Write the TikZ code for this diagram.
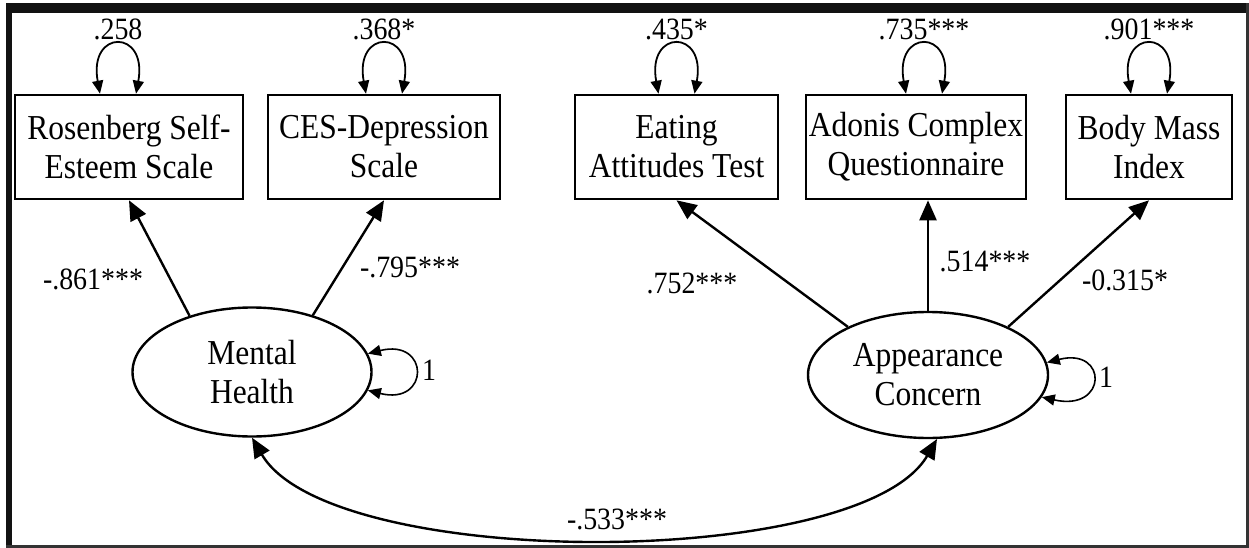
\documentclass[tikz,border=0pt]{standalone}
\usepackage{fontspec}
\setmainfont{Liberation Serif}[FakeStretch=0.9]
\usetikzlibrary{arrows.meta, shapes.geometric, calc}

\begin{document}
\begin{tikzpicture}[x=1pt, y=-1pt]

\tikzset{measure/.style = {shape=rectangle, draw, line width=2.6pt, minimum height=104pt, inner sep=0pt, align=center, font=\fontsize{35}{39}\selectfont}}
\tikzset{latent/.style = {shape=ellipse, draw, line width=2.4pt, inner sep=0pt, align=center, font=\fontsize{35}{39}\selectfont}}
\tikzset{path/.style = {-{Triangle[length=20pt,width=17pt]}, line width=2.4pt}}
\tikzset{resid/.style = {{Triangle[length=13pt,width=11pt]}-{Triangle[length=13pt,width=11pt]}, line width=1.8pt}}
\tikzset{coef/.style = {font=\fontsize{31}{33}\selectfont, inner sep=0pt}}

\useasboundingbox (0,0) rectangle (1249,548);
% frame
\fill[black!93] (6,3) rectangle (1249,13);
\fill[black!93] (6,3) rectangle (12,548);
\fill[black!80] (1246,3) rectangle (1249,548);
\fill[black!80] (6,545) rectangle (1249,548);

% vertices
\node[measure, minimum width=228pt] (rse) at (129,147) {Rosenberg Self-\\Esteem Scale};
\node[measure, minimum width=232pt] (ces) at (384,147) {CES-Depression\\Scale};
\node[measure, minimum width=203pt] (eat) at (676.5,147) {Eating\\Attitudes Test};
\node[measure, minimum width=220pt] (acq) at (916,147) {Adonis Complex\\Questionnaire};
\node[measure, minimum width=166pt] (bmi) at (1149,147) {Body Mass\\Index};
\node[latent, minimum width=239pt, minimum height=129pt] (mh) at (252,372) {Mental\\Health};
\node[latent, minimum width=240pt, minimum height=126pt] (ac) at (928,375) {Appearance\\Concern};

% residual variances
\foreach \n/\dx/\v in {rse/-11/.258, ces/0/.368*, eat/0/.435*, acq/8/.735***, bmi/0/.901***}{
  \draw[resid] ($(\n.north)+(\dx-18,0)$) .. controls +(-12,-65) and +(12,-65) .. ($(\n.north)+(\dx+18,0)$);
  \node[coef, anchor=base] (v\n) at ($(\n.north)+(\dx,-54)$) {\v};
}
\draw[resid, line width=1.6pt] (mh.9) .. controls (430,338) and (430,406) .. (mh.-9);
\node[coef] (vmh) at (429,370) {1};
\draw[resid, line width=1.6pt] (ac.6) .. controls (1108,347) and (1108,412) .. (ac.-11);
\node[coef] (vac) at (1106,377) {1};

%edges
\draw[path] (mh.138) -- (rse.south);
\node[coef] (l1) at (93,279) {-.861***};
\draw[path] (mh.43) -- (ces.south);
\node[coef] (l2) at (410,267) {-.795***};
\draw[path] (ac.149) -- (eat.south);
\node[coef] (l3) at (692,283) {.752***};
\draw[path] (ac.north) -- (ac.north |- acq.south);
\node[coef] (l4) at (985,261) {.514***};
\draw[path] (ac.31) -- (bmi.south);
\node[coef] (l5) at (1125,280) {-0.315*};
\draw[path, {Triangle[length=20pt,width=17pt]}-{Triangle[length=20pt,width=17pt]}] (mh.south) .. controls (330,571) and (860,571) .. (ac.-82);
\node[coef] (l6) at (617,519) {-.533***};
\end{tikzpicture}
\end{document}
